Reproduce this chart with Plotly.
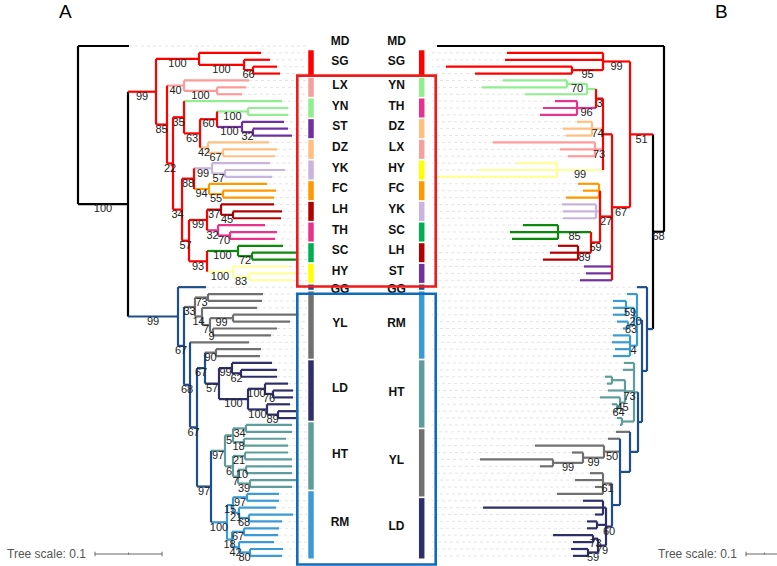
import plotly.graph_objects as go

# ------------------------------------------------------------------ groups
GROUPS_A = ["MD", "SG", "LX", "YN", "ST", "DZ", "YK", "FC", "LH", "TH", "SC", "HY",
            "GG", "YL", "LD", "HT", "RM"]
SIZES_A = [1, 4, 3, 3, 3, 3, 3, 3, 3, 3, 3, 3, 1, 10, 9, 10, 10]
GROUPS_B = ["MD", "SG", "YN", "TH", "DZ", "LX", "HY", "FC", "YK", "SC", "LH", "ST",
            "GG", "RM", "HT", "YL", "LD"]
SIZES_B = [1, 4, 3, 3, 3, 3, 3, 3, 3, 3, 3, 3, 1, 10, 10, 10, 9]

RED_SET = {"SG", "LX", "YN", "ST", "DZ", "YK", "FC", "LH", "TH", "SC", "HY"}
BLUE_SET = {"GG", "YL", "LD", "HT", "RM"}
RED_BOX_GROUPS = ("LX", "HY")
BLUE_BOX_GROUPS = ("YL", "RM")

TREE_COLOR = {"MD": "#000000", "SG": "#ff0000", "LX": "#ff9a9a", "YN": "#90ee90",
              "ST": "#7030a0", "DZ": "#ffbf80", "YK": "#c8b4dc", "FC": "#ff9900",
              "LH": "#b30000", "TH": "#e8338c", "SC": "#0b8a0b", "HY": "#ffff99",
              "GG": "#1f4e8c", "YL": "#707070", "LD": "#2e2e6b", "HT": "#5f9c9c",
              "RM": "#3a9ad6"}
BAR_COLOR = dict(TREE_COLOR, SC="#00b050", HY="#ffff00", LX="#f4a09c")
INTERNAL_RED = "#ff0000"
INTERNAL_BLUE = "#1f4e8c"

# ------------------------------------------------------------------ tree A
# internal node = [depth from root, bootstrap, children]; leaf = tip depth
A_SG = [121, 100, [183, [166, 100, [192, [175, 66, [199, 202]]]]]]
A_LX = [106, 40, [171, [139, 100, [168, 164]]]]
A_YN2 = [170, 100, [210, 210]]
A_ST = [164, 100, [206, [175, 32, [210, 214]]]]
A_DZ = [130, 42, [191, [145, 67, [199, 197]]]]
A_R4 = [106, 35, [204, [122, 63, [[139, 60, [A_YN2, A_ST]], A_DZ]]]]
A_YK = [134, 99, [192, [147, 57, [207, 194]]]]
A_FC = [131, 94, [189, [145, 55, [198, 196]]]]
A_LH = [143, 37, [196, [155, 45, [204, 203]]]]
A_TH = [140, 32, [187, [152, 70, [199, 197]]]]
A_SC = [160, 100, [205, [174, 72, [220, 220]]]]
A_HY = [155, 100, [211, [171, 83, [220, 215]]]]
A_N34 = [104, 34, [[116, 88, [A_YK, A_FC]],
                   [111, 57, [[129, 99, [A_LH, A_TH]], [129, 93, [A_SC, A_HY]]]]]]
A_RED = [78, 99, [A_SG, [89, 85, [A_LX, [95, 22, [A_R4, A_N34]]]]]]

A_YL = [117, 33, [[130, 73, [185, 184]],
                  [124, 14, [179, [132, 7, [[155, 99, [219, 212]], [135, 9, [199, 193]]]]]]]]
A_LD = [141, 57, [[154, 99, [194, [163, 62, [199, 199]]]],
                  [170, 100, [[187, 100, [210, [195, 76, [215, 215]]]],
                              [189, 100, [212, [200, 89, [219, 219]]]]]]]]
A_HT = [147, 97, [[155, 5, [[168, 34, [214, 214]], [166, 18, [208, 210]]]],
                  [155, 6, [[167, 21, [210, 214]],
                            [160, 7, [[168, 10, [214, 214]], [172, 39, [219, 214]]]]]]]]
A_RM = [149, 100, [[155, 15, [[169, 97, [201, 201]], [161, 21, [198, [171, 68, [215, 204]]]]]],
                   [154, 18, [[166, 67, [201, 200]], [161, 42, [196, [172, 80, [205, 204]]]]]]]]
A_N67 = [127, 67, [[138, 90, [183, 182]], A_LD]]
A_N97 = [133, 97, [A_HT, A_RM]]
A_B3 = [112, 68, [171, [119, 67, [A_N67, A_N97]]]]
A_BLUE = [100, 99, [128, [106, 67, [A_YL, A_B3]]]]
TREE_A = [0, None, [51, [50, 100, [A_RED, A_BLUE]]]]

# ------------------------------------------------------------------ tree B
B_SG = [61, 99, [157, 159, [92, 95, [218, 189]]]]
B_YN = [77, None, [[97, 70, [161, 182]], 139]]
B_TH = [87, 96, [109, 121, 124]]
B_DZ = [72, 74, [87, 101, 98]]
B_LX = [69, 73, [171, 104, 96]]
B_HY = [107, 99, [147, 185, 229]]
B_FC = [65, None, [86, 81, 98]]
B_YK = [68, None, [102, 101, 101]]
B_SC = [106, 85, [141, 154, 152]]
B_LH = [86, 89, [106, 114, 121]]
B_RB3 = [61, None, [[68, 3, [B_YN, B_TH]], B_DZ, B_LX, B_HY]]
B_N27 = [64, 27, [B_FC, B_YK, [73, 59, [B_SC, B_LH]]]]
B_RED = [34, 51, [B_SG, [52, 67, [B_RB3, B_N27, 80, 78, 84]]]]

B_RM = [27, None, [37, [30, 20, [[38, 59, [51, 51, 51]], [36, 83, [47, 41]]]],
                   [34, 4, [51, 52, 49, 51]]]]
B_HT = [30, None, [40, 41, [39, 73, [[52, None, [59, 57]], 56,
                                     [44, 45, [64, [47, 64, [52, 50]]]]]],
                   [42, None, [47, 44]]]]
B_G50 = [60, 50, [129, [81, 99, [92, [111, 99, [184, 124]]]]]]
B_GB = [61, 61, [74, 89, 69, 107]]
B_LD = [58, 60, [[61, None, [81, 181, 69]], [67, None, [77, 77]],
                 [66, 79, [[71, 73, [111, 91]], [76, 59, [93, 91]]]]]]
B_BB5 = [44, None, [56, B_G50, [52, None, [B_GB, B_LD]]]]
B_BLUE = [17, None, [27, [22, None, [B_RM, [26, None, [B_HT, [34, None, [48, B_BB5]]]]]]]]
TREE_B = [0, None, [227, [11, 68, [B_RED, B_BLUE]]]]

# scale bars: (start depth, length of 0.1 in depth units)
SCALE_A = (17, 67)
SCALE_B = (-82, 37)
SCALE_ROW = 73.73
GUIDE_END_A = 229
GUIDE_END_B = 232

# middle panel columns (x3 axis) and label nudges (in rows)
COL_X = {"barA": 311, "labA": 340, "labB": 396.5, "barB": 421.7}
BOX_X = (297.3, 435.7)
LABEL_NUDGE = {"MD": -0.45, "GG": 0.65}


def expand(groups, sizes):
    out = []
    for g, n in zip(groups, sizes):
        out += [g] * n
    return out


def spans(groups, sizes):
    res, i = {}, 0
    for g, n in zip(groups, sizes):
        res[g] = (i, i + n - 1)
        i += n
    return res


def node_color(gs):
    if len(gs) == 1:
        return TREE_COLOR[next(iter(gs))]
    if gs <= RED_SET:
        return INTERNAL_RED
    if gs <= BLUE_SET:
        return INTERNAL_BLUE
    return "#000000"


def layout_tree(tree, leaf_groups):
    segs, labels, leaves = [], [], []
    counter = [0]

    def rec(node, parent_depth):
        if not isinstance(node, list):
            i = counter[0]
            counter[0] += 1
            g = leaf_groups[i]
            segs.append((TREE_COLOR[g], parent_depth, i, node, i))
            leaves.append((node, i))
            return i, {g}
        depth, sup, kids = node
        ys, gs = [], set()
        for k in kids:
            y, g = rec(k, depth)
            ys.append(y)
            gs |= g
        y = (ys[0] + ys[-1]) / 2
        col = node_color(gs)
        segs.append((col, depth, ys[0], depth, ys[-1]))
        if parent_depth is not None:
            segs.append((col, parent_depth, y, depth, y))
            if sup is not None:
                labels.append(((parent_depth + depth) / 2, y, str(sup)))
        return y, gs

    rec(tree, None)
    return segs, labels, leaves


fig = go.Figure()
FONT = "Liberation Sans, Arial, sans-serif"


def add_tree(tree, leaf_groups, xaxis, guide_end):
    segs, labels, leaves = layout_tree(tree, leaf_groups)
    gx, gy = [], []
    for d, i in leaves:
        if d < guide_end:
            gx += [d, guide_end, None]
            gy += [i, i, None]
    fig.add_trace(go.Scatter(x=gx, y=gy, mode="lines", xaxis=xaxis, yaxis="y",
                             line=dict(color="#e4e4e4", width=1, dash="dot"),
                             hoverinfo="skip", showlegend=False))
    by_col = {}
    for col, x0, y0, x1, y1 in segs:
        xs, ys = by_col.setdefault(col, ([], []))
        xs += [x0, x1, None]
        ys += [y0, y1, None]
    order = sorted(by_col, key=lambda c: c in (INTERNAL_RED, INTERNAL_BLUE, "#000000"))
    for col in order:
        xs, ys = by_col[col]
        fig.add_trace(go.Scatter(x=xs, y=ys, mode="lines", xaxis=xaxis, yaxis="y",
                                 line=dict(color=col, width=2.2),
                                 hoverinfo="skip", showlegend=False))
    fig.add_trace(go.Scatter(x=[l[0] for l in labels], y=[l[1] for l in labels],
                             text=[l[2] for l in labels], mode="text",
                             textposition="bottom center", xaxis=xaxis, yaxis="y",
                             textfont=dict(size=11, color="#222222", family=FONT),
                             hoverinfo="skip", showlegend=False))


add_tree(TREE_A, expand(GROUPS_A, SIZES_A), "x", GUIDE_END_A)
add_tree(TREE_B, expand(GROUPS_B, SIZES_B), "x2", GUIDE_END_B)

# ------------------------------------------------------------------ middle panel
for groups, sizes, bar_col, lab_col in ((GROUPS_A, SIZES_A, "barA", "labA"),
                                         (GROUPS_B, SIZES_B, "barB", "labB")):
    sp = spans(groups, sizes)
    for g in groups:
        a, b = sp[g]
        if g != "MD":
            fig.add_trace(go.Scatter(x=[COL_X[bar_col]] * 2, y=[a - 0.38, b + 0.38],
                                     mode="lines", xaxis="x3", yaxis="y",
                                     line=dict(color=BAR_COLOR[g], width=5.5),
                                     hoverinfo="skip", showlegend=False))
    fig.add_trace(go.Scatter(x=[COL_X[lab_col]] * len(groups),
                             y=[(sp[g][0] + sp[g][1]) / 2 - 0.2 + LABEL_NUDGE.get(g, 0)
                                for g in groups],
                             text=["<b>%s</b>" % g for g in groups], mode="text",
                             xaxis="x3", yaxis="y",
                             textfont=dict(size=12, color="#111111", family=FONT),
                             hoverinfo="skip", showlegend=False))

spA = spans(GROUPS_A, SIZES_A)
shapes = []
for (g0, g1), col, pt, pb in ((RED_BOX_GROUPS, "#f01a1a", 0.7, 0.9),
                              (BLUE_BOX_GROUPS, "#0f6cbd", 0.05, 1.25)):
    shapes.append(dict(type="rect", xref="x3", yref="y", x0=BOX_X[0], x1=BOX_X[1],
                       y0=spA[g0][0] - pt, y1=spA[g1][1] + pb,
                       line=dict(color=col, width=2.6), fillcolor="rgba(0,0,0,0)"))

# ------------------------------------------------------------------ scale bars
annotations = []
for (start, length), xa in ((SCALE_A, "x"), (SCALE_B, "x2")):
    end = start + length if xa == "x" else start - length
    mid = (start + end) / 2
    sx = [start, end, None, start, start, None, end, end, None, mid, mid]
    sy = [SCALE_ROW, SCALE_ROW, None, SCALE_ROW - 0.33, SCALE_ROW + 0.33, None,
          SCALE_ROW - 0.33, SCALE_ROW + 0.33, None, SCALE_ROW - 0.2, SCALE_ROW + 0.05]
    fig.add_trace(go.Scatter(x=sx, y=sy, mode="lines", xaxis=xa, yaxis="y",
                             line=dict(color="#666666", width=1),
                             hoverinfo="skip", showlegend=False))
    annotations.append(dict(text="Tree scale: 0.1", xref=xa, yref="y", x=start,
                            y=SCALE_ROW, xanchor="right", yanchor="middle", xshift=-7,
                            showarrow=False, font=dict(size=12, color="#555555", family=FONT)))

for txt, px in (("A", 65), ("B", 721)):
    annotations.append(dict(text=txt, xref="paper", yref="paper", x=px / 777, y=1 - 11 / 566,
                            xanchor="center", yanchor="middle", showarrow=False,
                            font=dict(size=19, color="#000000", family=FONT)))

fig.update_layout(
    width=777, height=566, margin=dict(l=0, r=0, t=0, b=0),
    paper_bgcolor="white", plot_bgcolor="white", showlegend=False,
    xaxis=dict(range=[-78, 699], visible=False, domain=[0, 1], fixedrange=True),
    xaxis2=dict(range=[664, -113], visible=False, overlaying="x", anchor="y"),
    xaxis3=dict(range=[0, 777], visible=False, overlaying="x", anchor="y"),
    yaxis=dict(range=[75.47, -6.676], visible=False, domain=[0, 1]),
    shapes=shapes, annotations=annotations,
)

fig.write_html("out.html", config={"displayModeBar": False},
               post_script="document.body.style.margin='0';"
                           "document.body.style.overflow='hidden';")
